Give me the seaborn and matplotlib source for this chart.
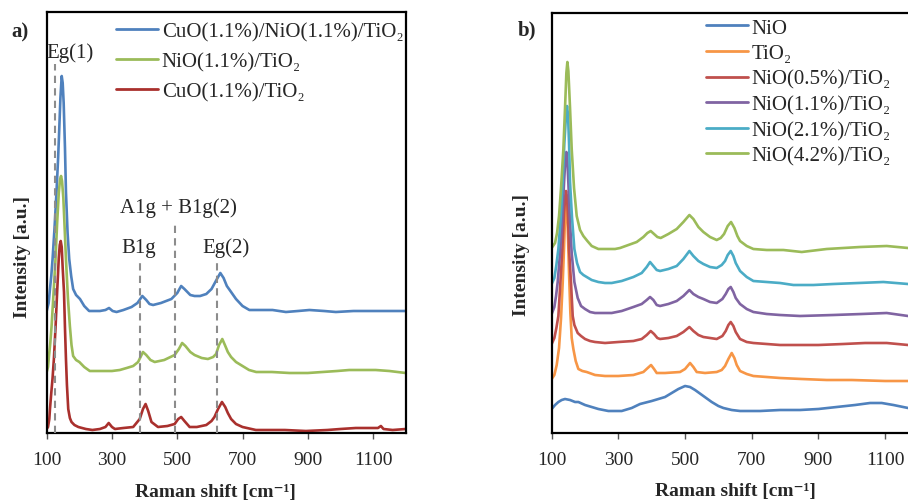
import matplotlib
matplotlib.use('Agg')
import matplotlib.pyplot as plt
from matplotlib.lines import Line2D
import pandas as pd
import seaborn as sns

# ---------------- Panel a data ----------------
a_labels = ['CuO(1.1%)/NiO(1.1%)/TiO₂', 'NiO(1.1%)/TiO₂', 'CuO(1.1%)/TiO₂']
a_colors = ['#4F81BD', '#9BBB59', '#A9302D']

a_cuni_x = [100, 106, 110, 114, 118, 124, 130, 135, 138, 142, 146, 149, 152, 156, 159, 164, 169, 175, 181, 190,
            202, 215, 230, 250, 263, 280, 291, 302, 314, 335, 360, 378, 393, 405, 415, 426, 450, 482, 500, 512,
            522, 540, 553, 570, 589, 605, 620, 632, 642, 652, 665, 680, 700, 721, 750, 792, 833, 870, 905, 950,
            986, 1040, 1088, 1150, 1200]
a_cuni_y = [122, 130, 144, 157, 174, 205, 241, 275, 300, 335, 357, 350, 330, 285, 241, 200, 174, 157, 144, 138,
            134, 127, 122, 122, 122, 123, 125, 122, 121, 123, 126, 130, 137, 133, 129, 128, 130, 134, 140, 147,
            144, 138, 137, 137, 139, 144, 153, 160, 155, 147, 141, 134, 127, 123, 123, 123, 121, 122, 123, 122,
            121, 122, 122, 122, 122]

a_ni_x = [100, 104, 107, 111, 115, 121, 127, 132, 137, 141, 144, 147, 151, 155, 159, 165, 171, 176, 181, 190,
          200, 215, 232, 263, 300, 324, 345, 365, 380, 395, 405, 418, 431, 460, 492, 505, 515, 525, 540, 553,
          575, 594, 610, 619, 628, 638, 646, 655, 665, 680, 700, 720, 742, 790, 844, 900, 945, 990, 1027, 1070,
          1108, 1150, 1200]
a_ni_y = [61, 66, 77, 90, 107, 140, 174, 210, 240, 254, 257, 252, 235, 205, 174, 135, 107, 88, 77, 73,
          71, 66, 62, 62, 62, 63, 65, 67, 71, 81, 78, 73, 71, 73, 78, 84, 90, 87, 81, 78,
          75, 74, 76, 79, 88, 94, 88, 81, 76, 71, 67, 63, 61, 61, 60, 60, 61, 62, 63, 63,
          63, 62, 60]

a_cu_x = [100, 104, 108, 110, 114, 118, 122, 127, 132, 137, 140, 143, 146, 149, 153, 156, 159, 162, 166, 171,
          176, 185, 197, 220, 240, 263, 280, 290, 300, 309, 335, 365, 385, 395, 403, 411, 421, 441, 470, 492,
          503, 512, 522, 538, 560, 589, 605, 614, 625, 637, 647, 655, 665, 680, 700, 741, 780, 830, 894, 960,
          1000, 1047, 1090, 1115, 1124, 1132, 1160, 1200]
a_cu_y = [4, 6, 14, 24, 40, 55, 74, 105, 141, 175, 188, 192, 186, 165, 141, 105, 74, 48, 24, 15,
          11, 8, 6, 4, 3, 4, 6, 10, 6, 4, 5, 6, 14, 24, 29, 22, 11, 6, 7, 9,
          14, 16, 12, 6, 6, 8, 12, 16, 24, 31, 26, 20, 14, 9, 6, 3, 3, 3, 2, 3,
          4, 5, 5, 5, 7, 4, 3, 4]

a_modes = ['Eg(1)', 'B1g', 'A1g + B1g(2)', 'Eg(2)']
a_mode_x = [125, 385, 494, 621]
a_mode_top = [369, 174, 209, 174]

# ---------------- Panel b data ----------------
b_labels = ['NiO', 'TiO₂', 'NiO(0.5%)/TiO₂', 'NiO(1.1%)/TiO₂', 'NiO(2.1%)/TiO₂', 'NiO(4.2%)/TiO₂']
b_colors = ['#4F81BD', '#F79646', '#C0504D', '#8064A2', '#4BACC6', '#9BBB59']

b_nio_x = [100, 110, 120, 130, 140, 155, 170, 180, 200, 220, 240, 270, 310, 340, 365, 400, 440, 460, 480, 500,
           515, 530, 555, 580, 600, 615, 640, 665, 725, 785, 845, 900, 955, 1010, 1055, 1090, 1125, 1169, 1200]
b_nio_y = [24, 28, 31, 33, 34, 33, 31, 31, 28, 26, 24, 22, 22, 25, 29, 32, 36, 40, 44, 47,
           46, 43, 37, 31, 27, 25, 23, 22, 22, 23, 23, 24, 26, 28, 30, 30, 28, 25, 24]

b_tio_x = [100, 108, 115, 122, 128, 133, 137, 140, 143, 146, 149, 152, 156, 160, 165, 172, 180, 192, 205, 230,
           260, 300, 345, 375, 388, 398, 407, 415, 440, 485, 500, 515, 525, 535, 560, 595, 610, 620, 630, 640,
           648, 655, 665, 685, 705, 745, 785, 850, 925, 1000, 1100, 1169, 1200]
b_tio_y = [54, 58, 68, 85, 115, 150, 185, 215, 232, 225, 195, 160, 120, 95, 84, 72, 64, 62, 61, 58,
           57, 57, 58, 61, 65, 68, 64, 60, 60, 61, 64, 70, 66, 61, 60, 61, 63, 67, 74, 80,
           75, 68, 62, 59, 57, 56, 55, 54, 53, 53, 52, 52, 52]

b_n05_x = [100, 108, 114, 120, 126, 132, 137, 141, 143, 146, 149, 152, 158, 163, 168, 178, 188, 200, 215, 230,
           260, 300, 345, 370, 385, 397, 407, 417, 425, 450, 475, 495, 513, 525, 540, 555, 575, 595, 612, 622,
           630, 637, 645, 652, 665, 685, 705, 745, 785, 825, 900, 975, 1040, 1105, 1169, 1200]
b_n05_y = [89, 95, 105, 117, 150, 184, 220, 238, 242, 236, 215, 184, 150, 117, 108, 100, 97, 94, 92, 91,
           90, 91, 92, 94, 98, 102, 99, 95, 94, 95, 97, 101, 106, 102, 98, 96, 95, 94, 97, 102,
           108, 111, 107, 101, 94, 91, 90, 89, 88, 88, 88, 89, 90, 90, 88, 88]

b_n11_x = [100, 108, 113, 118, 125, 132, 137, 141, 144, 147, 150, 154, 160, 168, 178, 188, 200, 215, 230, 260,
           280, 310, 345, 370, 385, 395, 405, 415, 425, 450, 475, 495, 513, 525, 540, 555, 575, 595, 612, 622,
           630, 637, 645, 652, 665, 685, 705, 745, 785, 845, 945, 1030, 1105, 1169, 1200]
b_n11_y = [119, 126, 137, 151, 180, 217, 250, 274, 281, 272, 250, 217, 180, 151, 135, 127, 124, 121, 120, 120,
           120, 122, 126, 129, 133, 136, 133, 128, 127, 129, 132, 137, 143, 139, 136, 134, 131, 130, 134, 139,
           144, 146, 141, 135, 129, 124, 121, 119, 118, 117, 118, 119, 120, 117, 117]

b_n21_x = [100, 108, 114, 120, 127, 133, 138, 143, 146, 149, 152, 155, 161, 168, 176, 185, 195, 205, 220, 240,
           260, 280, 310, 345, 370, 385, 395, 405, 415, 425, 450, 475, 495, 513, 525, 540, 555, 575, 595, 610,
           620, 628, 637, 645, 652, 665, 685, 705, 745, 785, 825, 885, 945, 1020, 1095, 1169, 1200]
b_n21_y = [149, 155, 168, 184, 215, 251, 290, 318, 327, 318, 290, 251, 215, 184, 170, 161, 158, 156, 153, 151,
           150, 150, 152, 156, 160, 166, 171, 167, 163, 162, 164, 167, 174, 182, 177, 172, 169, 166, 165, 168,
           172, 178, 182, 177, 170, 162, 156, 152, 151, 150, 148, 148, 149, 150, 151, 149, 149]

b_n42_x = [100, 110, 116, 122, 128, 135, 140, 144, 147, 150, 155, 160, 167, 175, 185, 195, 207, 220, 240, 260,
           290, 305, 330, 355, 375, 387, 397, 407, 417, 427, 450, 475, 495, 513, 525, 540, 555, 575, 595, 607,
           617, 628, 638, 648, 657, 665, 685, 705, 745, 795, 850, 925, 975, 1025, 1105, 1169, 1200]
b_n42_y = [185, 190, 200, 217, 245, 284, 325, 360, 371, 362, 325, 284, 245, 217, 203, 197, 192, 187, 184, 184,
           184, 185, 188, 191, 196, 200, 202, 199, 196, 195, 199, 204, 211, 218, 214, 206, 201, 196, 193, 195,
           199, 207, 211, 205, 197, 192, 187, 184, 183, 183, 181, 184, 185, 186, 187, 185, 184]

x_ticks = [100, 300, 500, 700, 900, 1100]

# ---------------- Style ----------------
sns.set_theme(style='white')
plt.rcParams['font.family'] = ['Liberation Serif', 'DejaVu Serif']
FS = 14      # ticks and axis labels
FL = 15      # legend and annotations

W, H = 908, 502
fig = plt.figure(figsize=(W / 100, H / 100), dpi=100)
axA = fig.add_axes([46.7 / W, 68 / H, 359 / W, 421 / H])
axB = fig.add_axes([551.7 / W, 68 / H, 366.7 / W, 420 / H])


def style_axes(ax, ymax):
    ax.set_xlim(100, 1200)
    ax.set_ylim(0, ymax)
    ax.set_xticks(x_ticks)
    ax.set_xticklabels([str(t) for t in x_ticks])
    ax.set_yticks([])
    ax.tick_params(axis='x', direction='out', length=4, width=1, color='#555555',
                   labelsize=FS, pad=9, bottom=True)
    for s in ax.spines.values():
        s.set_visible(True)
        s.set_color('black')
        s.set_linewidth(1.6)
    ax.set_xlabel('Raman shift [cm⁻¹]', fontsize=FS, fontweight='bold')
    ax.set_ylabel('Intensity [a.u.]', fontsize=FS, fontweight='bold')
    ax.grid(False)


# Panel a
a_series = [(a_cuni_x, a_cuni_y), (a_ni_x, a_ni_y), (a_cu_x, a_cu_y)]
for (xs, ys), lab, col in zip(a_series, a_labels, a_colors):
    df = pd.DataFrame({'x': xs, 'y': ys})
    sns.lineplot(data=df, x='x', y='y', ax=axA, color=col, lw=1.9, sort=False,
                 estimator=None, legend=False)

for mx, mt in zip(a_mode_x, a_mode_top):
    axA.plot([mx, mx], [0, mt], ls=(0, (3.5, 2.5)), color='#8C8C8C', lw=1.5, zorder=5)

axA.text(171, 381, a_modes[0], fontsize=FL, ha='center', va='center')
axA.text(382, 186, a_modes[1], fontsize=FL, ha='center', va='center')
axA.text(504, 226, a_modes[2], fontsize=FL, ha='center', va='center')
axA.text(650, 186, a_modes[3], fontsize=FL, ha='center', va='center')

style_axes(axA, 421)
axA.xaxis.set_label_coords(0.469, -0.119)
axA.yaxis.set_label_coords(-0.045, 0.42)

hA = [Line2D([0], [0], color=c, lw=2) for c in a_colors]
fig.legend(hA, a_labels, loc='upper left', bbox_to_anchor=(116 / W, 1 - 23 / H),
           frameon=False, fontsize=FL, handlelength=2.0, handletextpad=0.2,
           labelspacing=0.5, borderpad=0, borderaxespad=0)

# Panel b
b_series = [(b_nio_x, b_nio_y), (b_tio_x, b_tio_y), (b_n05_x, b_n05_y),
            (b_n11_x, b_n11_y), (b_n21_x, b_n21_y), (b_n42_x, b_n42_y)]
for (xs, ys), lab, col in zip(b_series, b_labels, b_colors):
    df = pd.DataFrame({'x': xs, 'y': ys})
    sns.lineplot(data=df, x='x', y='y', ax=axB, color=col, lw=1.9, sort=False,
                 estimator=None, legend=False)

style_axes(axB, 420)
axB.xaxis.set_label_coords(0.5, -0.117)
axB.yaxis.set_label_coords(-0.06, 0.427)

hB = [Line2D([0], [0], color=c, lw=2) for c in b_colors]
fig.legend(hB, b_labels, loc='upper left', bbox_to_anchor=(706 / W, 1 - 19 / H),
           frameon=False, fontsize=FL, handlelength=2.0, handletextpad=0.2,
           labelspacing=0.29, borderpad=0, borderaxespad=0)

fig.text(20 / W, 1 - 32 / H, 'a)', fontsize=FS + 1, fontweight='bold', ha='center', va='center')
fig.text(527 / W, 1 - 30 / H, 'b)', fontsize=FS + 1, fontweight='bold', ha='center', va='center')

fig.savefig('out.png', dpi=100)
